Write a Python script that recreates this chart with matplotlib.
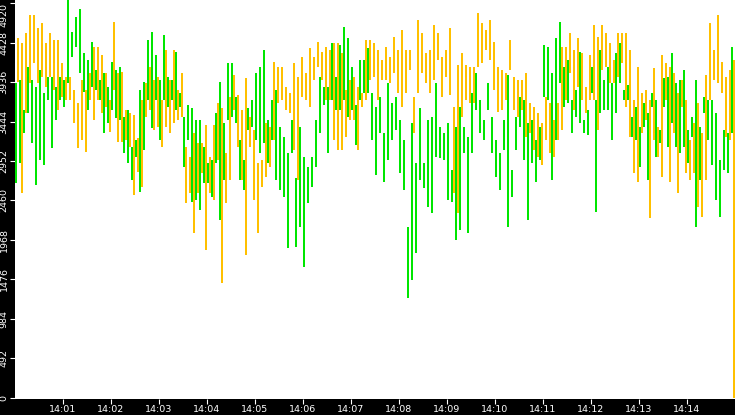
import numpy as np
import matplotlib
matplotlib.use("Agg")
import matplotlib.pyplot as plt

# ---- data ----
green_high = [3921,3962,3588,4129,3962,3879,4087,3796,4004,4004,3879,4004,3962,4960,4565,4752,4844,4295,4212,4440,
              4087,3962,4045,3879,4191,4087,4129,3505,3588,3131,3214,3838,3942,4461,4565,4274,3962,4524,4004,3962,
              4316,3796,3505,3651,3609,3464,3464,3131,2923,2965,3547,3942,3422,4170,4170,3754,3214,2965,3609,3713,
              4045,4129,4336,3464,3713,3838,3380,3256,3048,3464,2736,3380,3006,2882,3006,3464,4004,3879,3879,4420,
              4004,4399,4627,4482,4129,3651,4212,4212,4357,3796,3630,3754,3297,3921,3671,3754,3464,3214,2133,3422,
              2923,3609,2923,3464,3505,3921,3380,3297,3422,2840,3380,3630,3380,3256,3796,4045,3713,3464,3921,3505,
              3214,3048,3464,4025,2840,3505,3754,3713,3422,3464,3214,3380,4399,4378,4045,4482,4690,4129,4212,3713,
              3838,4316,3464,3588,4129,3713,4336,3962,4129,3921,4295,4420,3838,3900,3505,3630,3380,3671,3547,3796,
              3713,3339,3983,4004,4295,3921,3962,4087,3339,3505,3962,3380,3754,3713,3713,3547,2965,3339,3297,4378]
green_low = [2682,2923,3297,3547,3172,2653,2965,2902,3713,3110,3464,3713,3630,3921,4253,4378,4045,3817,3588,3879,
             3838,3713,3297,3422,3588,3484,3464,3048,2923,2715,3006,2570,3089,3713,3360,3713,3214,3713,3630,3713,
             3588,3630,2882,3214,2445,2466,2341,2674,2674,2507,2923,2217,2715,3464,3505,3422,2715,2591,3339,3380,
             3214,3048,3172,2923,3214,2715,2591,2507,1863,3048,1884,2133,1634,2424,2632,2882,3297,3651,3048,3713,
             3588,3588,3713,3505,3588,3152,3713,3796,3796,3214,2778,3297,2694,2965,3214,3339,2798,2591,1240,1468,
             1801,2715,2611,2383,2300,3006,2985,2965,2466,2445,1967,2092,3048,2050,3048,3588,3297,3214,3588,3048,
             2757,2591,3089,2133,2507,3089,3380,2965,2217,2923,2694,2965,3754,3713,2715,3214,3921,3630,3671,3297,
             3505,3422,3297,3276,3796,2320,3547,3588,3588,3214,3547,3921,3713,3713,3256,3214,2882,3380,2715,3630,
             3006,3172,3630,3131,3422,3131,3048,3131,2923,3256,2133,2715,3547,3214,2902,2466,2258,2840,2798,3297]
orange_high = [4482,4420,4544,4773,4773,4607,4669,4420,4544,4461,4461,4170,4004,4004,3838,3671,3962,3838,4045,4378,
               4378,4274,4045,3713,4690,4045,4066,3588,3547,3526,3235,3713,3921,4129,3962,4004,3713,4336,3962,4336,
               3838,4045,3131,3006,3297,3172,3172,3401,3006,3401,3671,3609,3048,3754,4025,3775,3588,3983,3505,3339,
               2923,2965,3422,3380,4191,4129,4129,3879,3796,4170,4004,4253,4045,4357,4253,4440,4316,4378,4336,4420,
               4420,4295,3838,3962,4004,3879,3796,4461,4461,4420,4336,4212,4378,4253,4503,4336,4586,4336,4336,3754,
               4711,4544,4295,4336,4648,4544,4253,4336,4607,3630,4149,4295,4149,4129,4129,4794,4669,4586,4711,4440,
               4129,4087,4045,4461,4004,3962,3962,4045,3671,3630,3547,3422,3754,3671,3464,3671,4378,4378,4544,4336,
               4482,4295,3879,4274,4648,4503,4648,4544,4420,4212,4544,4544,4544,4336,3713,4129,3796,3838,3713,4108,
               3380,4274,4170,4129,4045,3796,3962,3713,3214,3422,3671,3297,4025,4669,4336,4773,4191,4004,4087,4212]
orange_low = [3942,2549,3547,3921,4170,3921,4004,3879,4004,3838,3588,3754,3713,3713,3422,3110,3214,3069,3713,3464,
              3713,3547,3630,3318,3838,3193,3193,3214,3131,2528,2819,2632,3505,3588,3339,3380,3131,3380,3297,3422,
              3464,3505,2424,2549,2050,2549,2798,1842,2549,2466,2965,1427,2424,2715,3588,3131,2715,1780,3131,2466,
              2050,2632,2757,2882,3214,3671,3713,3588,3547,3089,2715,3754,3713,3630,3962,4129,3962,3713,3713,3214,
              3089,3089,3256,3464,3464,3089,3630,3713,3962,4004,3713,3962,3962,3921,4045,3796,3630,3796,4087,3297,
              3796,4045,3921,3796,3962,4212,3754,4004,3775,2549,2300,3505,3713,3671,3671,4129,4170,4336,4212,3838,
              3567,3588,3713,4087,3588,3505,3588,3256,3297,3089,3006,2902,3214,3048,3006,3214,3339,3713,4045,3588,
              3879,3713,3547,3713,3713,3339,4087,4129,3921,3921,4004,4170,3630,3256,2798,2694,3297,3464,2237,3214,
              3006,2757,3713,2694,3297,2549,3630,2798,2715,2798,2383,2258,2715,3713,3962,3921,3796,3256,3214,0]

y_ticks = [0, 492, 984, 1476, 1968, 2460, 2952, 3444, 3936, 4428, 4920]
x_tick_minutes = list(range(1, 15))
x_tick_labels = ["14:%02d" % m for m in x_tick_minutes]

GREEN = "#00e600"
ORANGE = "#ffc000"

# ---- figure ----
W, H, DPI = 735, 415, 100
fig = plt.figure(figsize=(W / DPI, H / DPI), dpi=DPI, facecolor="black")
ax = fig.add_axes([15 / W, 16 / H, 720 / W, 399 / H])
ax.set_facecolor("white")

n = len(green_high)
step = 15.0 / (n * 4)          # minutes per pixel-slot (4 slots per bar pair)
idx = np.arange(n)
xg = (idx * 4 + 1) * step
xo = (idx * 4 + 3) * step

lw = 2 * 72 / DPI
ax.vlines(xg, green_low, green_high, colors=GREEN, linewidth=lw, antialiased=False)
ax.vlines(xo, orange_low, orange_high, colors=ORANGE, linewidth=lw, antialiased=False)

ax.set_xlim(0, 15)
ax.set_ylim(-16, 4960)

for s in ax.spines.values():
    s.set_visible(False)

ax.set_xticks(x_tick_minutes)
ax.set_xticklabels(x_tick_labels)
ax.set_yticks(y_ticks)
ax.set_yticklabels([str(v) for v in y_ticks])

ax.tick_params(axis="both", colors="white", labelcolor="white", labelsize=6.8,
               length=3.6, width=0.8, direction="out")
ax.tick_params(axis="x", pad=1)
ax.tick_params(axis="y", pad=1, labelrotation=90)
ylabels = ax.get_yticklabels()
for lab in ylabels:
    lab.set_va("center")
ylabels[-1].set_va("top")

fig.savefig("out.png", dpi=DPI, facecolor="black")
